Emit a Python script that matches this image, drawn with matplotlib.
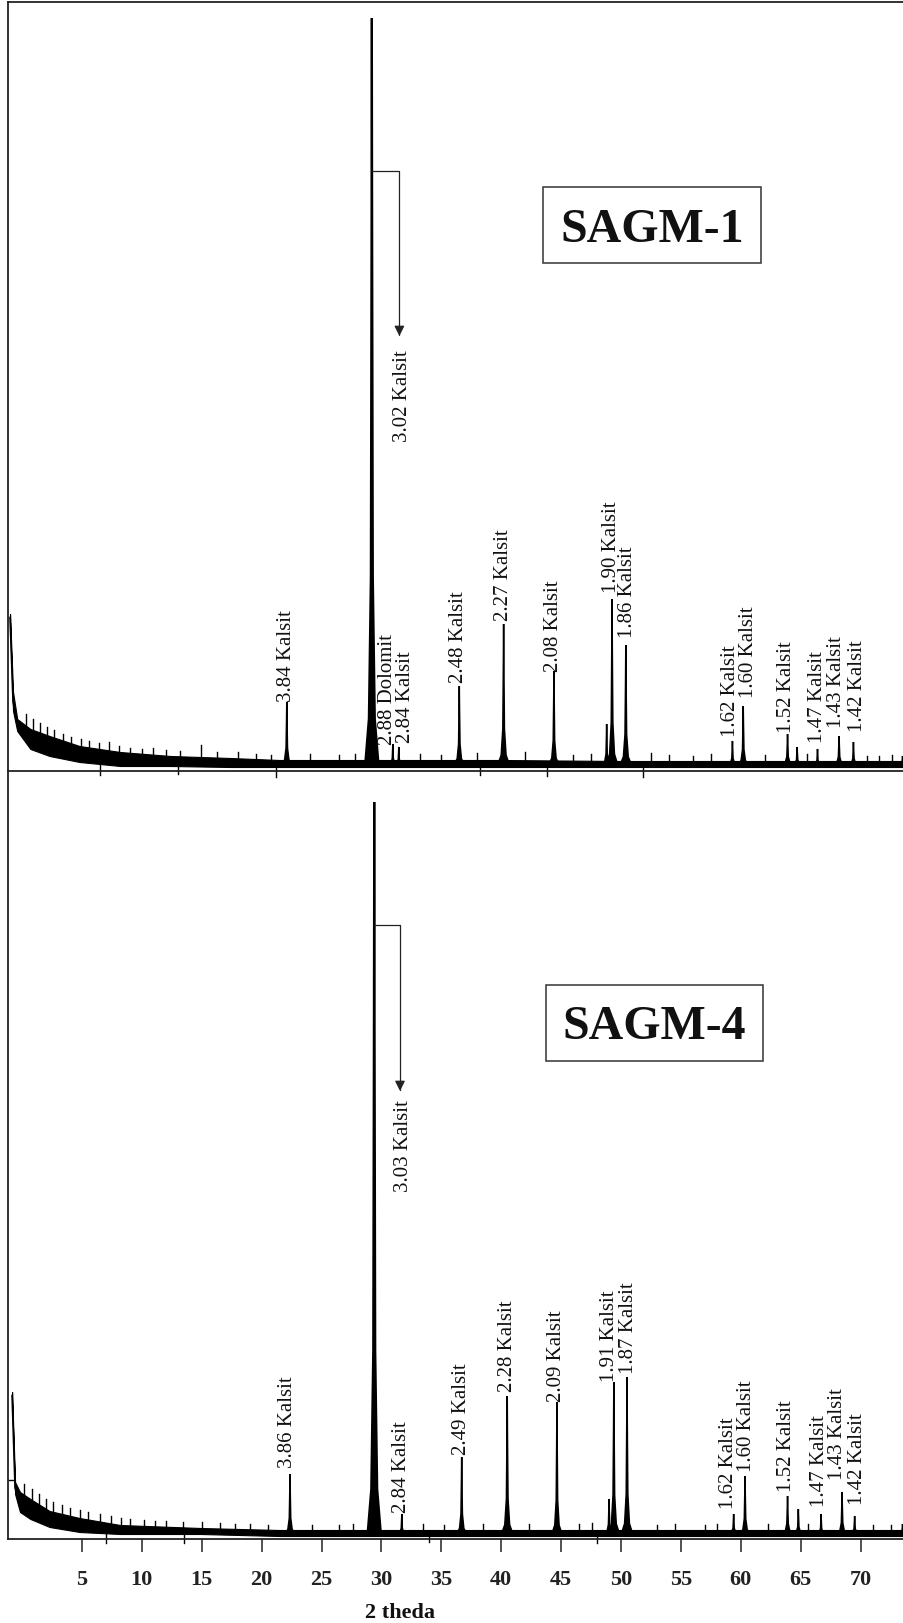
import numpy as np
import matplotlib.pyplot as plt
from matplotlib.patches import Rectangle

# XRD patterns (2 theta vs intensity, intensity in arbitrary units)

# background band (lower / upper envelope of the noisy trace)
top_env_x = [-1.0, -0.75, -0.4, 0.7, 2.3, 4.8, 8.2, 12.4, 17.4, 21.5, 30, 40, 50, 60, 73.6]
top_env_hi = [157, 79, 52, 42, 35, 25, 19, 15, 13, 11, 11, 11, 10, 10, 10]
top_env_lo = [150, 60, 40, 22, 15, 9, 5, 5, 4, 4, 4, 4, 4, 4, 4]

bot_env_x = [-0.83, -0.58, -0.17, 0.7, 2.3, 4.8, 8.2, 14.9, 21.5, 30, 40, 50, 60, 73.6]
bot_env_hi = [147, 57, 47, 40, 28, 21, 14, 11, 9, 9, 9, 9, 9, 9]
bot_env_lo = [140, 45, 27, 20, 12, 7, 5, 5, 3, 3, 3, 3, 3, 3]

# peaks
top_pos = [22.1, 29.2, 30.95, 31.45, 36.5, 40.2, 44.4, 48.8, 49.25, 50.4,
           59.3, 60.2, 63.9, 64.7, 66.4, 68.2, 69.4, 73.5]
top_height = [69, 753, 27, 24, 85, 147, 100, 47, 172, 126,
              30, 65, 37, 24, 22, 35, 29, 15]
top_width = [0.4, 0.55, 0.3, 0.3, 0.4, 0.45, 0.4, 0.35, 0.45, 0.45,
             0.35, 0.4, 0.4, 0.35, 0.3, 0.4, 0.35, 0.3]

bot_pos = [22.37, 29.4, 31.7, 36.7, 40.5, 44.65, 49.0, 49.4, 50.5,
           59.4, 60.35, 63.9, 64.8, 66.7, 68.45, 69.5, 73.5]
bot_height = [65, 737, 25, 82, 143, 137, 40, 157, 162,
              25, 63, 43, 30, 25, 47, 23, 15]
bot_width = [0.4, 0.55, 0.3, 0.4, 0.45, 0.4, 0.35, 0.45, 0.45,
             0.35, 0.4, 0.4, 0.35, 0.3, 0.4, 0.35, 0.3]

# single noise spikes
top_spike_x = [0.3, 0.9, 1.5, 2.1, 2.7, 3.4, 4.1, 4.9, 5.6, 6.4, 7.3, 8.1, 9.0, 10.0,
               10.9, 12.0, 13.2, 14.9, 16.3, 18.0, 19.5, 20.8, 24.0, 26.5, 27.8, 33.2,
               35.0, 38.0, 42.0, 46.0, 47.5, 52.5, 54.0, 56.0, 57.5, 62.0, 65.5, 70.5,
               71.5, 72.6, 6.5, 13.0, 21.2, 38.2, 43.8, 51.8]
top_spike_y = [57, 52, 48, 44, 41, 37, 34, 32, 30, 28, 29, 25, 23, 22,
               23, 21, 20, 26, 19, 19, 17, 16, 17, 16, 17, 17,
               16, 18, 19, 16, 17, 18, 16, 15, 17, 16, 17, 15,
               15, 16, -4, -3, -6, -4, -5, -6]
bot_spike_x = [0.2, 0.8, 1.4, 2.0, 2.6, 3.3, 4.0, 4.8, 5.5, 6.5, 7.4, 8.3, 9.0, 10.2,
               11.1, 12.0, 13.4, 15.0, 16.5, 17.8, 19.0, 20.5, 24.2, 26.5, 27.6, 33.5,
               35.2, 38.5, 42.3, 46.5, 47.6, 53.0, 54.5, 57.0, 58.0, 62.3, 65.6, 71.0,
               72.5, 7.0, 13.5, 34.0, 48.0]
bot_spike_y = [55, 50, 45, 40, 37, 34, 31, 29, 27, 25, 23, 21, 20, 19,
               18, 18, 17, 17, 16, 15, 15, 14, 14, 14, 15, 15,
               14, 15, 15, 15, 16, 14, 15, 14, 15, 15, 15, 14,
               14, -4, -4, -3, -4]

# labels
top_lab = ["3.84 Kalsit", "2.88 Dolomit", "2.84 Kalsit", "2.48 Kalsit", "2.27 Kalsit",
           "2.08 Kalsit", "1.90 Kalsit", "1.86 Kalsit", "1.62 Kalsit", "1.60 Kalsit",
           "1.52 Kalsit", "1.47 Kalsit", "1.43 Kalsit", "1.42 Kalsit"]
top_lab_x = [22.1, 30.5, 32.05, 36.4, 40.15, 44.4, 49.2, 50.5, 59.1, 60.6, 63.8, 66.4, 68.0, 69.7]
top_lab_y = [70, 27, 29, 89, 151, 100, 179, 134, 35, 74, 39, 29, 44, 40]

bot_lab = ["3.86 Kalsit", "2.84 Kalsit", "2.49 Kalsit", "2.28 Kalsit", "2.09 Kalsit",
           "1.91 Kalsit", "1.87 Kalsit", "1.62 Kalsit", "1.60 Kalsit", "1.52 Kalsit",
           "1.47 Kalsit", "1.43 Kalsit", "1.42 Kalsit"]
bot_lab_x = [22.2, 31.7, 36.7, 40.5, 44.6, 49.0, 50.6, 59.0, 60.5, 63.85, 66.6, 68.1, 69.7]
bot_lab_y = [72, 27, 85, 148, 138, 158, 166, 31, 68, 48, 33, 60, 35]

xticks = [5, 10, 15, 20, 25, 30, 35, 40, 45, 50, 55, 60, 65, 70]

SERIF = "Liberation Serif"
W, H = 904, 1624


def fx(px):
    return px / W


def fy(py):
    return 1 - py / H


# peak outline shape (style only): narrow needle with a slightly wider foot
shape_dx = np.array([-1, -0.45, -0.15, -0.05, 0, 0.05, 0.15, 0.45, 1])
shape_f = np.array([0, 0.06, 0.25, 0.7, 1, 0.7, 0.25, 0.06, 0])


def draw_trace(ax, env_x, env_hi, env_lo, pos, height, width, spx, spy):
    env_x = np.array(env_x)
    hi = np.array(env_hi)
    lo = np.array(env_lo)
    mid = (hi + lo) / 2
    ax.fill_between(env_x, lo, hi, color="black", lw=0.8, zorder=2)
    ax.plot(env_x, mid, color="black", lw=1.2, zorder=2)
    for p, h, w in zip(pos, height, width):
        b = np.interp(p, env_x, mid)
        xs = p + w * shape_dx
        ys = b + shape_f * (h - b)
        ax.fill(xs, ys, facecolor="black", edgecolor="black",
                lw=1.6 if h > 500 else 1.1, zorder=3)
    for x, y in zip(spx, spy):
        b = np.interp(x, env_x, mid)
        ax.plot([x, x], [b, y], color="black", lw=1.0, zorder=2, clip_on=False)


fig = plt.figure(figsize=(9.04, 16.24), dpi=100)
ax1 = fig.add_axes([fx(8), fy(772), 1 - fx(8), fy(3) - fy(772)])
ax2 = fig.add_axes([fx(8), fy(1540), 1 - fx(8), fy(772) - fy(1540)])

for ax in (ax1, ax2):
    ax.set_xlim(-1.17, 73.62)
    ax.spines["right"].set_visible(False)
    for s in ("left", "top", "bottom"):
        ax.spines[s].set_linewidth(1.3)
        ax.spines[s].set_color("#222222")
    ax.set_facecolor("none")

ax1.set_ylim(0, 769)
ax2.set_ylim(0, 768)
ax2.spines["top"].set_visible(False)
ax1.set_xticks([])
ax1.set_yticks([])
ax2.set_xticks(xticks)
ax2.set_xticklabels([str(t) for t in xticks], fontfamily=SERIF, fontweight="bold", fontsize=16)
ax2.tick_params(axis="x", direction="out", length=9.5, width=1.1, pad=12, colors="#222222")
ax2.set_yticks([59])
ax2.set_yticklabels([])
ax2.tick_params(axis="y", direction="in", length=5, width=1.0)

draw_trace(ax1, top_env_x, top_env_hi, top_env_lo, top_pos, top_height, top_width,
           top_spike_x, top_spike_y)
draw_trace(ax2, bot_env_x, bot_env_hi, bot_env_lo, bot_pos, bot_height, bot_width,
           bot_spike_x, bot_spike_y)

for ax, labs, lx, ly in ((ax1, top_lab, top_lab_x, top_lab_y), (ax2, bot_lab, bot_lab_x, bot_lab_y)):
    for t, x, y in zip(labs, lx, ly):
        ax.text(x, y, t, rotation=90, ha="center", va="bottom",
                fontfamily=SERIF, fontsize=15, color="#111111", zorder=4)

# main reflection callouts
arrow = dict(arrowstyle="-|>,head_length=0.6,head_width=0.3",
             connectionstyle="angle,angleA=0,angleB=90,rad=0",
             lw=0.9, color="#222222", shrinkA=0, shrinkB=0)
ax1.annotate("", xy=(31.5, 435), xytext=(29.2, 600), arrowprops=arrow)
ax1.text(31.8, 422, "3.02 Kalsit", rotation=90, ha="center", va="top",
         fontfamily=SERIF, fontsize=15, color="#111111")
ax2.annotate("", xy=(31.55, 448), xytext=(29.4, 614), arrowprops=arrow)
ax2.text(31.85, 440, "3.03 Kalsit", rotation=90, ha="center", va="top",
         fontfamily=SERIF, fontsize=15, color="#111111")

# sample name boxes
for (x0, y0, x1, y1, base, name) in ((543, 188, 761, 264, 242, "SAGM-1"),
                                     (546, 986, 763, 1062, 1039, "SAGM-4")):
    fig.patches.append(Rectangle((fx(x0), fy(y1)), fx(x1) - fx(x0), fy(y0) - fy(y1),
                                 transform=fig.transFigure, fill=False,
                                 lw=1.1, edgecolor="#333333"))
    fig.text(fx((x0 + x1) / 2), fy(base), name, ha="center", va="baseline",
             fontfamily=SERIF, fontweight="bold", fontsize=34.5, color="#111111")

fig.text(fx(400), fy(1618), "2 theda", ha="center", va="baseline",
         fontfamily=SERIF, fontweight="bold", fontsize=16, color="#111111")

fig.savefig("out.png", dpi=100, facecolor="white")
